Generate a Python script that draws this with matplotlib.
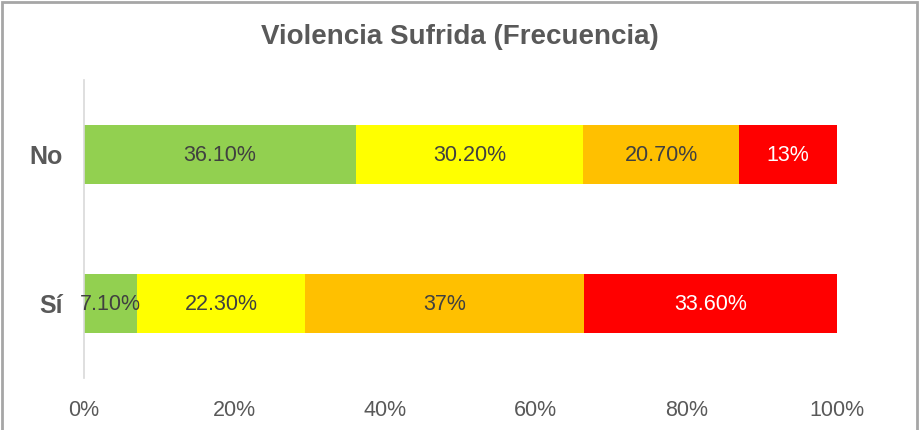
import matplotlib.pyplot as plt
from matplotlib.patches import Rectangle

plt.rcParams["font.family"] = ["Liberation Sans", "DejaVu Sans"]

categories = ["Sí", "No"]
# segment values (percent) per category, left to right
no_vals = [36.1, 30.2, 20.7, 13.0]
si_vals = [7.1, 22.3, 37.0, 33.6]
no_labels = ["36.10%", "30.20%", "20.70%", "13%"]
si_labels = ["7.10%", "22.30%", "37%", "33.60%"]
seg_colors = ["#92D050", "#FFFF00", "#FFC000", "#FF0000"]
text_colors = ["#404040", "#404040", "#404040", "#FFFFFF"]
xticks = [0, 20, 40, 60, 80, 100]

fig = plt.figure(figsize=(9.19, 4.30), dpi=100)
ax = fig.add_axes([84/919, 52/430, 753/919, 298/430])

rows = [(0, si_vals, si_labels), (1, no_vals, no_labels)]
for y, vals, labs in rows:
    left = 0
    for v, lab, c, tc in zip(vals, labs, seg_colors, text_colors):
        ax.barh(y, v, left=left, height=0.4, color=c, edgecolor="none")
        ax.text(left + v/2, y - 0.01, lab, ha="center", va="center", fontsize=15.5, color=tc)
        left += v

ax.set_xlim(0, 100)
ax.set_ylim(-0.5, 1.5)
ax.set_yticks([0, 1])
ax.set_yticklabels(categories, fontsize=18, fontweight="bold", color="#595959")
ax.set_xticks(xticks)
ax.set_xticklabels([f"{t}%" for t in xticks], fontsize=15.5, color="#595959")
ax.tick_params(length=0)
ax.tick_params(axis="x", pad=16)
ax.tick_params(axis="y", pad=15)
for s in ["top", "right", "bottom"]:
    ax.spines[s].set_visible(False)
ax.spines["left"].set_color("#D9D9D9")
ax.spines["left"].set_linewidth(1.2)

fig.text(0.5, 1 - 37/430, "Violencia Sufrida (Frecuencia)", ha="center", va="center",
         fontsize=20, fontweight="bold", color="#595959")

fig.patches.append(Rectangle((1.5/919, -0.1), 915/919, 1.1 - 2/430, transform=fig.transFigure,
                             fill=False, edgecolor="#A6A6A6", linewidth=2))

fig.savefig("out.png", dpi=100)
